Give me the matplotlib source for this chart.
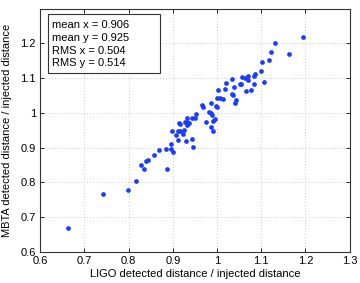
import matplotlib
matplotlib.use("Agg")
import matplotlib.pyplot as plt
from matplotlib.patches import Rectangle

ligo = [0.664, 0.743, 0.799, 0.817, 0.827, 0.834, 0.839, 0.843, 0.858, 0.869,
        0.887, 0.885, 0.896, 0.897, 0.900, 0.898, 0.908, 0.912, 0.911, 0.916,
        0.914, 0.917, 0.922, 0.926, 0.930, 0.928, 0.931, 0.933, 0.936, 0.933,
        0.943, 0.946, 0.943, 0.951, 0.953, 0.966, 0.968, 0.974, 0.983, 0.986,
        0.988, 0.987, 0.986, 0.992, 0.992, 0.995, 0.998, 1.001, 1.002, 1.001,
        1.007, 1.014, 1.020, 1.018, 1.033, 1.039, 1.033, 1.036, 1.042, 1.040,
        1.052, 1.055, 1.056, 1.064, 1.065, 1.071, 1.071, 1.076, 1.084, 1.085,
        1.084, 1.099, 1.106, 1.102, 1.118, 1.122, 1.132, 1.163, 1.195]
mbta = [0.670, 0.768, 0.779, 0.804, 0.851, 0.838, 0.862, 0.865, 0.878, 0.893,
        0.839, 0.895, 0.910, 0.895, 0.888, 0.947, 0.937, 0.922, 0.947, 0.948,
        0.970, 0.968, 0.939, 0.951, 0.918, 0.973, 0.966, 0.974, 0.972, 0.985,
        0.925, 0.902, 0.985, 0.985, 0.997, 1.023, 1.018, 0.974, 1.003, 0.999,
        0.995, 1.028, 0.959, 0.949, 0.978, 0.983, 1.019, 1.016, 1.065, 1.044,
        1.044, 1.040, 1.085, 1.068, 1.097, 1.075, 1.055, 1.051, 1.036, 1.029,
        1.082, 1.082, 1.103, 1.101, 1.064, 1.106, 1.095, 1.066, 1.082, 1.112,
        1.107, 1.120, 1.089, 1.146, 1.152, 1.176, 1.201, 1.170, 1.218]

xticks = [0.6, 0.7, 0.8, 0.9, 1.0, 1.1, 1.2, 1.3]
yticks = [0.6, 0.7, 0.8, 0.9, 1.0, 1.1, 1.2]
xtick_labels = ["0.6", "0.7", "0.8", "0.9", "1", "1.1", "1.2", "1.3"]
ytick_labels = ["0.6", "0.7", "0.8", "0.9", "1", "1.1", "1.2"]
stats_lines = ["mean x = 0.906", "mean y = 0.925", "RMS x = 0.504", "RMS y = 0.514"]

plt.rcParams['font.family'] = ['Liberation Sans', 'DejaVu Sans']

fig = plt.figure(figsize=(3.6, 2.83), dpi=100)
ax = fig.add_axes([0.1114, 0.1095, 0.860, 0.8604])
ax.plot(ligo, mbta, linestyle='none', marker='o', markersize=3.4,
        color='#1a3cff', markeredgewidth=0)
ax.set_xlim(0.6, 1.3)
ax.set_ylim(0.6, 1.3)
ax.set_xticks(xticks)
ax.set_xticklabels(xtick_labels)
ax.set_yticks(yticks)
ax.set_yticklabels(ytick_labels)
ax.tick_params(direction='in', top=True, right=True, labelsize=8, length=3,
               width=0.6, pad=3)
ax.grid(True, linestyle=(0, (1, 2.5)), color='#bbbbbb', linewidth=0.6)
for s in ax.spines.values():
    s.set_linewidth(0.8)
    s.set_color('#333333')
ax.set_xlabel("LIGO detected distance / injected distance", fontsize=8, labelpad=2)
ax.set_ylabel("MBTA detected distance / injected distance", fontsize=8, labelpad=6)

ax.add_patch(Rectangle((0.0255, 0.7351), 0.3618, 0.2423, transform=ax.transAxes,
                       facecolor='white', edgecolor='#333333', linewidth=0.8,
                       zorder=5))
line_y = [0.932, 0.879, 0.826, 0.776]
for t, yy in zip(stats_lines, line_y):
    ax.text(0.0384, yy, t, transform=ax.transAxes, fontsize=8, va='center',
            ha='left', zorder=6)

fig.savefig("out.png", dpi=100)
